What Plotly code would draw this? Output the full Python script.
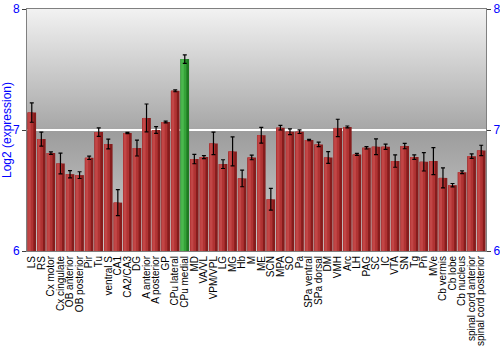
import base64
import plotly.graph_objects as go

categories = ["LS", "RS", "Cx motor", "Cx cingulate", "OB anterior", "OB posterior", "Pir", "Tu",
              "ventral S", "CA1", "CA2/CA3", "DG", "A anterior", "A posterior", "GP", "CPu lateral",
              "CPu medial", "MD", "VA/VL", "VPM/VPL", "LG", "MG", "Hb", "M", "ME", "SCN", "MPA",
              "SO", "Pa", "SPa ventral", "SPa dorsal", "DM", "VMH", "Arc", "LH", "PAG", "SC", "IC",
              "VTA", "SN", "Tg", "Pn", "MVe", "Cb vermis", "Cb lobe", "Cb nucleus",
              "spinal cord anterior", "spinal cord posterior"]
values = [7.144, 6.925, 6.809, 6.723, 6.635, 6.627, 6.770, 6.983,
          6.884, 6.400, 6.975, 6.851, 7.100, 7.000, 7.066, 7.324,
          7.586, 6.760, 6.776, 6.889, 6.718, 6.823, 6.600, 6.773, 6.956, 6.427, 7.019,
          6.986, 6.986, 6.917, 6.881, 6.773, 7.017, 7.025, 6.798, 6.853, 6.862, 6.862,
          6.743, 6.867, 6.776, 6.737, 6.743, 6.604, 6.544, 6.651,
          6.784, 6.831]
errors = [0.080, 0.058, 0.011, 0.086, 0.030, 0.028, 0.014, 0.035,
          0.040, 0.108, 0.005, 0.066, 0.115, 0.028, 0.007, 0.008,
          0.035, 0.039, 0.012, 0.093, 0.036, 0.120, 0.069, 0.019, 0.065, 0.090, 0.019,
          0.024, 0.015, 0.006, 0.019, 0.048, 0.072, 0.008, 0.008, 0.010, 0.065, 0.022,
          0.051, 0.022, 0.019, 0.076, 0.112, 0.083, 0.014, 0.011,
          0.019, 0.043]
highlight = "CPu medial"
y_ticks = [6, 7, 8]

is_hi = [c == highlight for c in categories]
dark = ["#1f7a22" if h else "#861c1c" for h in is_hi]
mid = ["#35a338" if h else "#b03333" for h in is_hi]
light = ["#4bb84e" if h else "#c24646" for h in is_hi]
base_vals = [v - 6 for v in values]

fig = go.Figure()
fig.add_trace(go.Bar(x=categories, y=base_vals, base=6, width=0.9,
                     marker=dict(color=dark, line=dict(width=0)), hoverinfo="skip"))
fig.add_trace(go.Bar(x=categories, y=base_vals, base=6, width=0.62, offset=-0.45,
                     marker=dict(color=mid, line=dict(width=0)), hoverinfo="skip"))
fig.add_trace(go.Bar(x=categories, y=base_vals, base=6, width=0.28, offset=-0.38,
                     marker=dict(color=light, line=dict(width=0)), hoverinfo="skip"))
fig.add_trace(go.Bar(x=categories, y=base_vals, base=6, width=0.9,
                     marker=dict(color="rgba(0,0,0,0)", line=dict(width=0)),
                     error_y=dict(type="data", array=errors, color="black", thickness=1.2, width=2)))
# invisible trace for right axis
fig.add_trace(go.Scatter(x=[categories[0]], y=[7], yaxis="y2", mode="markers",
                         marker=dict(opacity=0), hoverinfo="skip", showlegend=False))

svg = ('<svg xmlns="http://www.w3.org/2000/svg" width="100" height="200" preserveAspectRatio="none">'
       '<defs><linearGradient id="g" x1="0" y1="0" x2="0" y2="1">'
       '<stop offset="0" stop-color="#f2f2f2"/><stop offset="0.5" stop-color="#a6a6a6"/>'
       '<stop offset="0.5" stop-color="#9c9c9c"/><stop offset="1" stop-color="#cfcfcf"/>'
       '</linearGradient></defs><rect width="100" height="200" fill="url(#g)"/></svg>')
src = "data:image/svg+xml;base64," + base64.b64encode(svg.encode()).decode()

axis_font = dict(family="Liberation Sans, Arial, sans-serif", size=12, color="blue")
fig.update_layout(
    width=500, height=350,
    margin=dict(l=27, r=14, t=9, b=99),
    barmode="overlay", showlegend=False, bargap=0.1,
    paper_bgcolor="white", plot_bgcolor="rgba(0,0,0,0)",
    images=[dict(source=src, xref="paper", yref="paper", x=0, y=1, sizex=1, sizey=1,
                 sizing="stretch", layer="below", xanchor="left", yanchor="top")],
    xaxis=dict(type="category", range=[-0.5, len(categories) - 0.5], tickangle=-90,
               tickmode="array", tickvals=categories, ticktext=categories,
               tickfont=dict(family="Liberation Sans, Arial, sans-serif", size=10, color="black"),
               showline=True, linecolor="#808080", mirror=True, showgrid=False, ticks="",
               ticklen=0, automargin=False),
    yaxis=dict(range=[6, 8], tickvals=y_ticks, tickfont=axis_font, showgrid=True,
               gridcolor="white", gridwidth=1.5, zeroline=False, showline=True,
               linecolor="#808080", ticks="outside", ticklen=4, tickcolor="#404040",
               title=dict(text="Log2 (expression)", font=axis_font, standoff=2),
               automargin=False),
    yaxis2=dict(range=[6, 8], tickvals=y_ticks, tickfont=axis_font, overlaying="y",
                side="right", showgrid=False, zeroline=False, showline=True,
                linecolor="#808080", ticks="outside", ticklen=4, tickcolor="#404040",
                automargin=False),
)
fig.write_html("out.html")
